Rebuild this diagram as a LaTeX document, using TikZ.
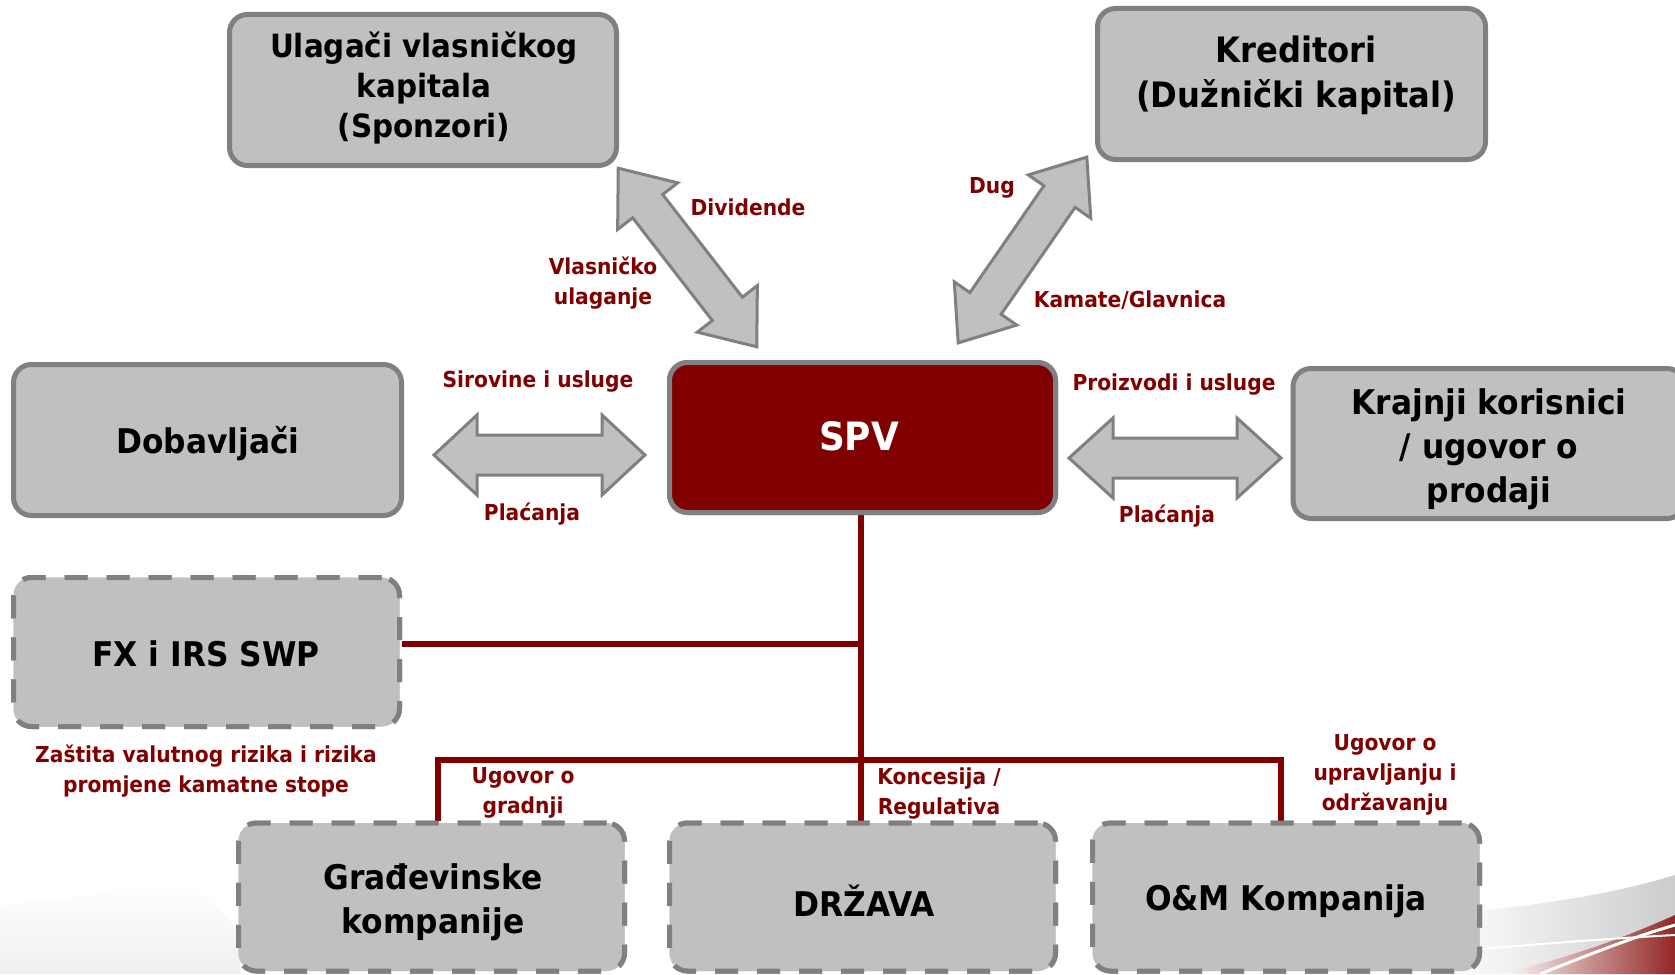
\documentclass[tikz,border=0pt]{standalone}
\usepackage{fontspec}
\setmainfont{DejaVu Sans}[FakeStretch=0.92]
\usetikzlibrary{calc}
\definecolor{boxgray}{HTML}{C0C0C0}
\definecolor{edgegray}{HTML}{808080}
\definecolor{darkred}{HTML}{800000}
\tikzset{
  box/.style={draw=edgegray, fill=boxgray, line width=5pt, rounded corners=18pt, inner sep=0pt},
  dbox/.style={box, dash pattern=on 23pt off 19pt},
  boxtxt/.style={font=\fontsize{34}{44}\selectfont\bfseries, align=center, text=black, inner sep=0pt},
  lab/.style={font=\fontsize{22}{30}\selectfont\bfseries, align=center, text=darkred, inner sep=0pt},
  link/.style={draw=darkred, line width=5.5pt},
  blk/.style={draw=edgegray, fill=boxgray, line width=3pt, line join=miter},
}
% center x, center y, angle, length, head length, head half width, shaft half width
\newcommand\blockarrow[7]{%
  \begin{scope}[shift={(#1,#2)},rotate=#3]
    \pgfmathsetmacro\halfL{#4/2}
    \pgfmathsetmacro\baseL{#4/2-#5}
    \filldraw[blk] (-\halfL,0) -- (-\baseL,#6) -- (-\baseL,#7) -- (\baseL,#7) -- (\baseL,#6) -- (\halfL,0)
      -- (\baseL,-#6) -- (\baseL,-#7) -- (-\baseL,-#7) -- (-\baseL,-#6) -- cycle;
  \end{scope}}
\begin{document}
\begin{tikzpicture}[x=1pt,y=-1pt]
\useasboundingbox (0,0) rectangle (1675,974);
% background swooshes
\shade[top color=white, bottom color=gray!12] (0,974) -- (0,905) .. controls (80,900) and (150,880) .. (192,886) .. controls (210,900) and (225,915) .. (240,930) -- (240,974) -- cycle;
\shade[left color=white, right color=gray!40] (1440,974) -- (1440,915) .. controls (1540,905) and (1610,895) .. (1675,875) -- (1675,974) -- cycle;
\shade[left color=white, right color=darkred!85] (1500,974) .. controls (1580,955) and (1630,935) .. (1675,915) -- (1675,974) -- cycle;
\draw[white, line width=3pt] (1540,974) .. controls (1600,950) and (1640,935) .. (1675,925);
\draw[white, line width=2pt] (1470,950) .. controls (1560,942) and (1620,938) .. (1675,935);

% coordinates for connectors
\coordinate (j1) at (861,644);
\coordinate (hl) at (438,760);
\coordinate (hr) at (1281,760);

% boxes attached to the red connectors
\node[box, minimum width=386pt, minimum height=150pt, fill=darkred] (spv) at (862.5,437.5) {};
\node[dbox, minimum width=386pt, minimum height=149pt] (fx) at (206.5,652) {};
\node[dbox, minimum width=386pt, minimum height=148pt] (grad) at (431.5,897) {};
\node[dbox, minimum width=386pt, minimum height=148pt] (drz) at (862.5,897) {};
\node[dbox, minimum width=387pt, minimum height=148pt] (om) at (1286,897) {};
% red connectors
\draw[link] (spv.south -| j1) -- (drz.north -| j1);
\draw[link] (fx.east |- j1) -- (j1);
\draw[link] (grad.north -| hl) -- (hl) -- (hr) -- (om.north -| hr);
% redraw boxes over connector ends
\node[box, minimum width=386pt, minimum height=150pt, fill=darkred] at (spv) {};
\node[dbox, minimum width=386pt, minimum height=149pt] at (fx) {};
\node[dbox, minimum width=386pt, minimum height=148pt] at (grad) {};
\node[dbox, minimum width=386pt, minimum height=148pt] at (drz) {};
\node[dbox, minimum width=387pt, minimum height=148pt] at (om) {};

% solid boxes
\node[box, minimum width=387pt, minimum height=151pt] (spons) at (423,90) {};
\node[box, minimum width=388pt, minimum height=151pt] (kred) at (1291.5,84) {};
\node[box, minimum width=388pt, minimum height=151pt] (dob) at (207.5,440) {};
\node[box, minimum width=392pt, minimum height=150pt] (kraj) at (1489,443.5) {};

% box texts
\node[boxtxt, font=\fontsize{32}{40}\selectfont\bfseries] (sponsT) at (424,88) {Ulagači vlasničkog\\kapitala\\(Sponzori)};
\node[boxtxt, font=\fontsize{35}{45}\selectfont\bfseries] (kredT) at (1296,75.5) {Kreditori\\(Dužnički kapital)};
\node[boxtxt] (dobT) at (208,443.5) {Dobavljači};
\node[boxtxt, text=white, font=\fontsize{39}{44}\selectfont\bfseries] (spvT) at (859,436) {SPV};
\node[boxtxt] (krajT) at (1489,449.5) {Krajnji korisnici\\/ ugovor o\\prodaji};
\node[boxtxt] (fxT) at (206,654) {FX i IRS SWP};
\node[boxtxt] (gradT) at (433,902) {Građevinske\\kompanije};
\node[boxtxt] (drzT) at (864,901) {DRŽAVA};
\node[boxtxt] (omT) at (1286,901) {O\&M Kompanija};

% block arrows
\blockarrow{539.5}{455}{0}{211}{43}{40}{20}
\blockarrow{1175}{458}{0}{212}{44}{40}{20}
\blockarrow{687.5}{257.5}{-52.2}{226}{48}{38}{19}
\blockarrow{1022.5}{250}{55.3}{226}{48}{38}{19}

% labels
\node[lab] (l1) at (748,207) {Dividende};
\node[lab] (l2) at (603,283) {Vlasničko\\ulaganje};
\node[lab] (l3) at (992,188) {Dug};
\node[lab] (l4) at (1130,300) {Kamate/Glavnica};
\node[lab] (l5) at (538,382) {Sirovine i usluge};
\node[lab] (l6) at (532,514) {Plaćanja};
\node[lab] (l7) at (1174,385) {Proizvodi i usluge};
\node[lab] (l8) at (1167,516) {Plaćanja};
\node[lab] (l9) at (206,771) {Zaštita valutnog rizika i rizika\\promjene kamatne stope};
\node[lab] (l10) at (523,793) {Ugovor o\\gradnji};
\node[lab] (l11) at (939,794) {Koncesija /\\Regulativa};
\node[lab] (l12) at (1385,775) {Ugovor o\\upravljanju i\\održavanju};
\end{tikzpicture}
\end{document}
